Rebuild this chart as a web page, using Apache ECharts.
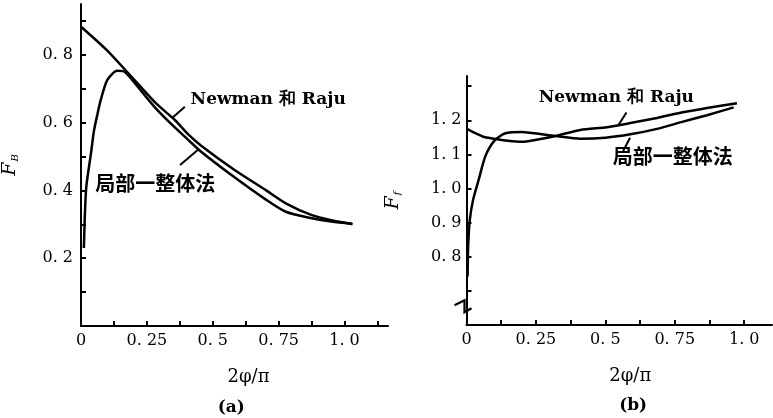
<!DOCTYPE html>
<html>
<head>
<meta charset="utf-8">
<script src="https://cdn.jsdelivr.net/npm/echarts@6/dist/echarts.min.js"></script>
<style>
html, body { margin: 0; padding: 0; background: #fff; }
#chart { width: 773px; height: 418px; }
</style>
</head>
<body>
<div id="chart"></div>
<script>
// (a) F_B
const xNewmanA = [0, 0.098, 0.178, 0.283, 0.357, 0.406, 0.456, 0.58, 0.703, 0.777, 0.876, 0.95, 1.03];
const yNewmanA = [0.883, 0.814, 0.747, 0.658, 0.607, 0.566, 0.532, 0.462, 0.4, 0.362, 0.327, 0.312, 0.301];
const xLocalA = [0.011, 0.014, 0.02, 0.038, 0.049, 0.061, 0.075, 0.1, 0.137, 0.16, 0.178, 0.209, 0.283, 0.357, 0.406, 0.456, 0.58, 0.703, 0.777, 0.876, 0.95, 1.03];
const yLocalA = [0.23, 0.313, 0.41, 0.51, 0.575, 0.62, 0.667, 0.726, 0.753, 0.752, 0.741, 0.712, 0.643, 0.585, 0.55, 0.514, 0.44, 0.372, 0.337, 0.318, 0.308, 0.301];

// (b) F_f
const xNewmanB = [0, 0.03, 0.06, 0.092, 0.15, 0.2, 0.272, 0.32, 0.41, 0.506, 0.59, 0.686, 0.77, 0.866, 0.974];
const yNewmanB = [1.176, 1.163, 1.152, 1.147, 1.14, 1.137, 1.146, 1.154, 1.172, 1.18, 1.192, 1.207, 1.222, 1.236, 1.25];
const xLocalB = [0.004, 0.006, 0.012, 0.024, 0.044, 0.068, 0.1, 0.14, 0.2, 0.272, 0.32, 0.41, 0.5, 0.59, 0.686, 0.77, 0.866, 0.962];
const yLocalB = [0.742, 0.83, 0.909, 0.968, 1.026, 1.095, 1.14, 1.162, 1.166, 1.159, 1.154, 1.146, 1.149, 1.159, 1.175, 1.194, 1.215, 1.238];

// axis ticks and labels
const xTicksA = [0, 0.125, 0.25, 0.375, 0.5, 0.625, 0.75, 0.875, 1.0, 1.125];
const xTicksB = [0, 0.125, 0.25, 0.375, 0.5, 0.625, 0.75, 0.875, 1.0];
const xLabelValues = [0, 0.25, 0.5, 0.75, 1.0];
const xLabelTexts = ['0', '0. 25', '0. 5', '0. 75', '1. 0'];
const yTicksA = [0.1, 0.2, 0.3, 0.4, 0.5, 0.6, 0.7, 0.8, 0.9];
const yLabelValuesA = [0.2, 0.4, 0.6, 0.8];
const yLabelTextsA = ['0. 2', '0. 4', '0. 6', '0. 8'];
const yTicksB = [0.7, 0.8, 0.9, 1.0, 1.1, 1.2, 1.3];
const yLabelValuesB = [0.8, 0.9, 1.0, 1.1, 1.2];
const yLabelTextsB = ['0. 8', '0. 9', '1. 0', '1. 1', '1. 2'];

const serif = 'DejaVu Serif';

let chart = echarts.init(document.querySelector("#chart"));

function zip(xs, ys) {
    return xs.map((x, i) => [x, ys[i]]);
}

function labelFor(values, texts) {
    return (v) => {
        let i = values.findIndex(t => Math.abs(t - v) < 1e-6);
        return i < 0 ? '' : texts[i];
    };
}

function xAxisCfg(gridIndex, max, ticks, shift) {
    return {
        type: 'value', gridIndex: gridIndex, min: 0, max: max,
        name: '2φ/π', nameLocation: 'middle', nameGap: 42,
        nameTextStyle: { fontFamily: serif, fontSize: 18, color: '#000', padding: [0, 0, 0, shift] },
        axisLine: { lineStyle: { color: '#000', width: 2 } },
        axisTick: { inside: true, length: 5, customValues: ticks, lineStyle: { color: '#000', width: 2 } },
        axisLabel: {
            customValues: xLabelValues, formatter: labelFor(xLabelValues, xLabelTexts),
            margin: 7, color: '#000', fontFamily: serif, fontSize: 16, fontWeight: 500
        },
        splitLine: { show: false }
    };
}

function yAxisCfg(gridIndex, min, max, ticks, values, texts, sub, gap, margin) {
    return {
        type: 'value', gridIndex: gridIndex, min: min, max: max,
        name: '{f|F}{s|' + sub + '}', nameLocation: 'middle', nameGap: gap, nameRotate: 90,
        nameTextStyle: {
            color: '#000',
            rich: {
                f: { fontFamily: serif, fontStyle: 'italic', fontSize: 19, color: '#000' },
                s: { fontFamily: serif, fontStyle: 'italic', fontSize: 10, color: '#000', verticalAlign: 'bottom', padding: [8, 0, 0, 1] }
            }
        },
        axisLine: { lineStyle: { color: '#000', width: 2 } },
        axisTick: { inside: true, length: 5, customValues: ticks, lineStyle: { color: '#000', width: 2 } },
        axisLabel: {
            customValues: values, formatter: labelFor(values, texts),
            margin: margin, color: '#000', fontFamily: serif, fontSize: 16, fontWeight: 500
        },
        splitLine: { show: false }
    };
}

function lineSeries(xi, data) {
    return {
        type: 'line', xAxisIndex: xi, yAxisIndex: xi, data: data,
        showSymbol: false, smooth: 0.25,
        lineStyle: { color: '#000', width: 2.5 }
    };
}

let option = {
    animation: false,
    backgroundColor: '#fff',
    grid: [
        { left: 73.5, top: 4, right: 385, bottom: 92 },
        { left: 466.5, top: 76, right: 1, bottom: 93 }
    ],
    xAxis: [
        xAxisCfg(0, 1.165, xTicksA, 28),
        xAxisCfg(1, 1.1, xTicksB, 22)
    ],
    yAxis: [
        yAxisCfg(0, 0, 0.95, yTicksA, yLabelValuesA, yLabelTextsA, 'B', 61, 8),
        yAxisCfg(1, 0.6, 1.33, yTicksB, yLabelValuesB, yLabelTextsB, 'f', 64, 5)
    ],
    series: [
        lineSeries(0, zip(xNewmanA, yNewmanA)),
        lineSeries(0, zip(xLocalA, yLocalA)),
        lineSeries(1, zip(xNewmanB, yNewmanB)),
        lineSeries(1, zip(xLocalB, yLocalB))
    ]
};
chart.setOption(option);

// annotations: [grid, leader start, leader end, text anchor, text, isCJK]
const notes = [
    [0, [0.394, 0.647], [0.345, 0.613], [0.416, 0.667], 'Newman 和 Raju', false],
    [0, [0.444, 0.52], [0.376, 0.475], [0.054, 0.422], '局部一整体法', true],
    [1, [0.576, 1.223], [0.546, 1.185], [0.26, 1.268], 'Newman 和 Raju', false],
    [1, [0.589, 1.149], [0.564, 1.11], [0.527, 1.095], '局部一整体法', true]
];

let graphics = [];
notes.forEach(n => {
    let p1 = chart.convertToPixel({ gridIndex: n[0] }, n[1]);
    let p2 = chart.convertToPixel({ gridIndex: n[0] }, n[2]);
    let pt = chart.convertToPixel({ gridIndex: n[0] }, n[3]);
    graphics.push({
        type: 'line', shape: { x1: p1[0], y1: p1[1], x2: p2[0], y2: p2[1] },
        style: { stroke: '#000', lineWidth: 2 }
    });
    graphics.push({
        type: 'text', x: pt[0], y: pt[1],
        style: {
            text: n[4], fill: '#000', verticalAlign: 'middle', align: 'left',
            font: n[5] ? 'bold 20px "Noto Sans CJK SC"' : 'bold 17px "DejaVu Serif"'
        }
    });
});

// axis break mark on (b)
let bp = chart.convertToPixel({ gridIndex: 1 }, [0, 0.655]);
graphics.push({
    type: 'polyline',
    shape: { points: [[bp[0] - 12, bp[1] - 1], [bp[0] - 2, bp[1] - 6], [bp[0] - 2, bp[1] + 6], [bp[0] + 5, bp[1] + 2]] },
    style: { stroke: '#000', lineWidth: 2.2, fill: null }
});

// sub-figure captions
let ca = chart.convertToPixel({ gridIndex: 0 }, [0.57, 0]);
let cb = chart.convertToPixel({ gridIndex: 1 }, [0.6, 0.6]);
graphics.push({ type: 'text', x: ca[0], y: 408, style: { text: '(a)', fill: '#000', align: 'center', verticalAlign: 'middle', font: 'bold 17px "DejaVu Serif"' } });
graphics.push({ type: 'text', x: cb[0], y: 406, style: { text: '(b)', fill: '#000', align: 'center', verticalAlign: 'middle', font: 'bold 17px "DejaVu Serif"' } });

chart.setOption({ graphic: graphics });

window.onresize = function () {
    chart.resize();
}
</script>
</body>
</html>
